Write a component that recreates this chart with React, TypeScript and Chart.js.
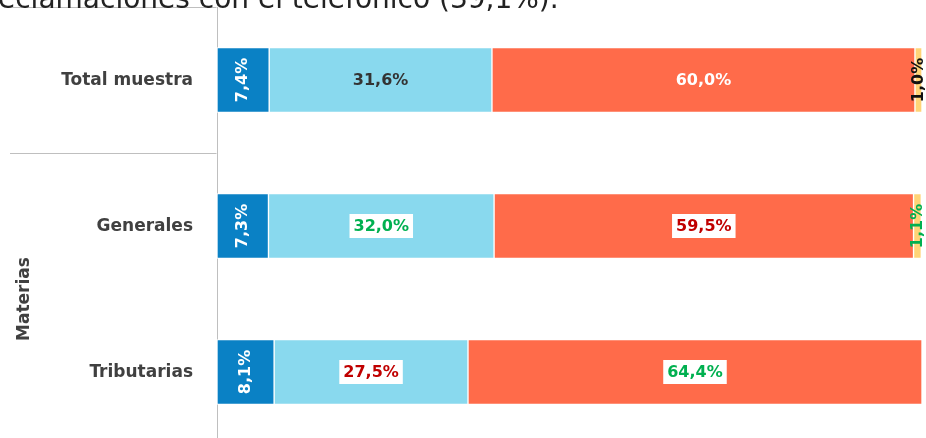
import React, { useEffect, useRef } from 'react';
import { Chart, registerables } from 'chart.js';

Chart.register(...registerables);

const headerText = 'eclamaciones con el telefónico (39,1%).';
const categories = ['Total muestra', 'Generales', 'Tributarias'];
const groupTitle = 'Materias';
const seriesNames = ['Serie 1', 'Serie 2', 'Serie 3', 'Serie 4'];
const serie1 = [7.4, 7.3, 8.1];
const serie2 = [31.6, 32.0, 27.5];
const serie3 = [60.0, 59.5, 64.4];
const serie4: (number | null)[] = [1.0, 1.1, null];
const seriesColors = ['#0a81c5', '#89d9ee', '#ff6b4a', '#ffd477'];

// label style per series per category
const labelStyles = [
  ['white', 'white', 'white'],
  ['dark', 'greenBox', 'redBox'],
  ['white', 'redBox', 'greenBox'],
  ['black', 'green', 'black'],
];
const rotatedSeries = [true, false, false, true];

const FONT = '"DejaVu Sans", Verdana, sans-serif';

function fmt(v: number) {
  return v.toFixed(1).replace('.', ',') + '%';
}

const labelPlugin = {
  id: 'segLabels',
  afterDatasetsDraw(chart: any) {
    const ctx = chart.ctx;
    chart.data.datasets.forEach((ds: any, di: number) => {
      const meta = chart.getDatasetMeta(di);
      meta.data.forEach((el: any, i: number) => {
        const v = ds.data[i];
        if (v === null || v === undefined) return;
        const cx = (el.x + el.base) / 2;
        const cy = el.y;
        const style = labelStyles[di][i];
        const txt = fmt(v);
        ctx.save();
        ctx.font = `bold 16px ${FONT}`;
        ctx.textAlign = 'center';
        ctx.textBaseline = 'middle';
        let color = '#333333';
        if (style === 'white') color = '#ffffff';
        if (style === 'black') color = '#111111';
        if (style === 'green' || style === 'greenBox') color = '#00b050';
        if (style === 'redBox') color = '#c00000';
        if (rotatedSeries[di]) {
          ctx.translate(cx, cy);
          ctx.rotate(-Math.PI / 2);
          ctx.fillStyle = color;
          ctx.fillText(txt, 0, 0);
        } else {
          if (style.endsWith('Box')) {
            const w = ctx.measureText(txt).width + 8;
            ctx.fillStyle = '#ffffff';
            ctx.fillRect(cx - w / 2, cy - 12, w, 24);
          }
          ctx.fillStyle = color;
          ctx.fillText(txt, cx, cy + 1);
        }
        ctx.restore();
      });
    });
  },
  afterDraw(chart: any) {
    const ctx = chart.ctx;
    const y = chart.scales.y;
    const area = chart.chartArea;
    const axisX = area.left - 0.5;
    const sep = (y.getPixelForTick(0) + y.getPixelForTick(1)) / 2;
    ctx.save();
    // category labels
    ctx.font = `bold 17px ${FONT}`;
    ctx.fillStyle = '#404040';
    ctx.textAlign = 'right';
    ctx.textBaseline = 'middle';
    categories.forEach((c, i) => {
      ctx.fillText(c, area.left - 24, y.getPixelForTick(i) + 1);
    });
    // group lines
    ctx.strokeStyle = '#bfbfbf';
    ctx.lineWidth = 1;
    [area.top, sep, area.bottom].forEach((yy: number) => {
      const py = Math.round(yy) + 0.5;
      ctx.beginPath();
      ctx.moveTo(10, py);
      ctx.lineTo(axisX, py);
      ctx.stroke();
    });
    // group title
    ctx.translate(25, (sep + area.bottom) / 2);
    ctx.rotate(-Math.PI / 2);
    ctx.textAlign = 'center';
    ctx.fillText(groupTitle, 0, 0);
    ctx.restore();
  },
};

export default function App() {
  const ref = useRef<HTMLCanvasElement>(null);
  useEffect(() => {
    if (!ref.current) return;
    const datasets = [serie1, serie2, serie3, serie4].map((d, i) => ({
      label: seriesNames[i],
      data: d,
      backgroundColor: seriesColors[i],
      borderColor: '#ffffff',
      borderWidth: 1,
      borderSkipped: false,
      barThickness: 65,
    }));
    const chart = new Chart(ref.current, {
      type: 'bar',
      data: { labels: categories, datasets },
      options: {
        indexAxis: 'y',
        responsive: false,
        maintainAspectRatio: false,
        animation: false,
        layout: { padding: { top: 7, bottom: 1, left: 0, right: 4 } },
        plugins: { legend: { display: false }, tooltip: { enabled: false }, title: { display: false } },
        scales: {
          x: { stacked: true, min: 0, max: 100, display: false },
          y: {
            stacked: true,
            grid: { display: false, drawTicks: false },
            border: { display: true, color: '#bfbfbf', width: 1 },
            ticks: { display: false },
            afterFit(scale: any) {
              scale.width = 217;
            },
          },
        },
      },
      plugins: [labelPlugin],
    } as any);
    return () => chart.destroy();
  }, []);
  return (
    <div style={{ position: 'absolute', left: 0, top: 0, width: 926, height: 438, overflow: 'hidden', background: '#fff' }}>
      <canvas ref={ref} width={926} height={446} style={{ position: 'absolute', left: 0, top: 0 }} />
      <div
        style={{
          position: 'absolute',
          left: -2,
          top: -15,
          fontFamily: FONT,
          fontSize: 28,
          lineHeight: '28px',
          color: '#222222',
          whiteSpace: 'nowrap',
        }}
      >
        {headerText}
      </div>
    </div>
  );
}
